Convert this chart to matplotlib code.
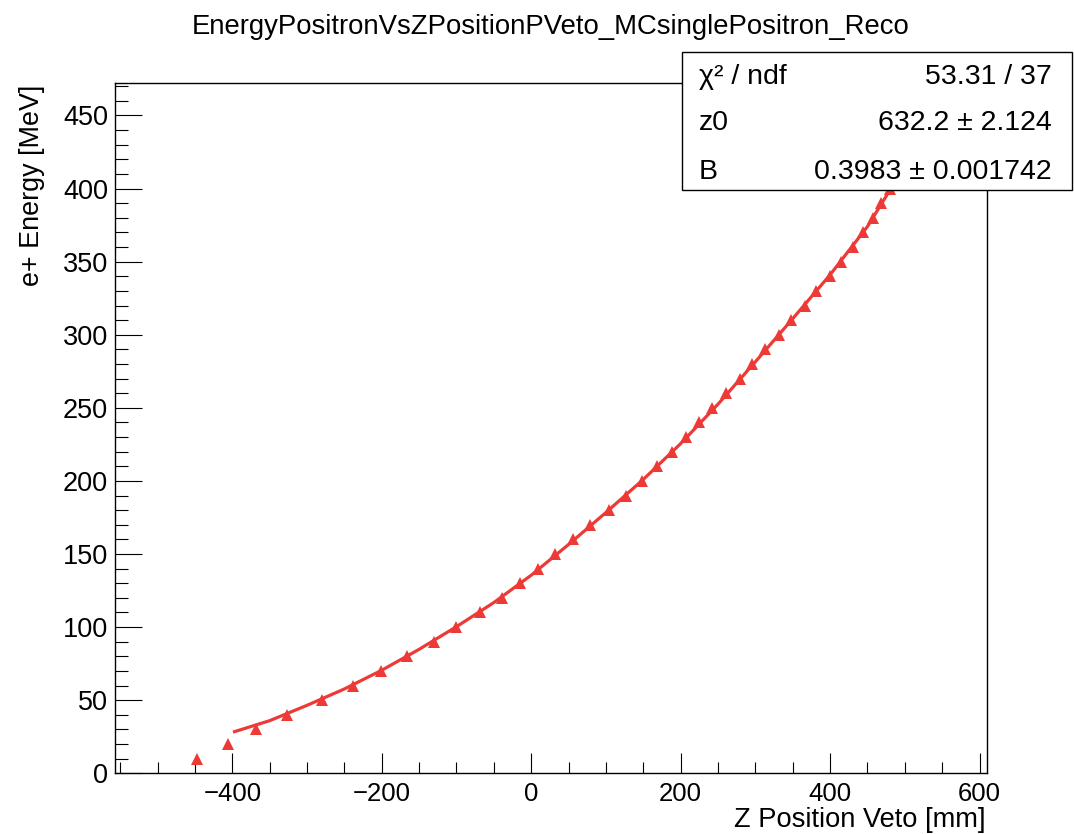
import matplotlib
matplotlib.use("Agg")
import matplotlib.pyplot as plt
from matplotlib.patches import Rectangle
from matplotlib.ticker import MultipleLocator, FuncFormatter

plt.rcParams['font.family'] = ['Liberation Sans', 'DejaVu Sans']

# ---- data ----
energy = [10, 20, 30, 40, 50, 60, 70, 80, 90, 100, 110, 120, 130, 140, 150,
          160, 170, 180, 190, 200, 210, 220, 230, 240, 250, 260, 270, 280,
          290, 300, 310, 320, 330, 340, 350, 360, 370, 380, 390, 400, 410]
zpos = [-447.6, -406.0, -368.7, -326.5, -280.5, -238.2, -201.0, -166.8,
        -130.0, -100.0, -68.7, -39.7, -15.2, 9.2, 31.6, 56.0, 78.4, 104.2,
        126.5, 148.9, 168.4, 189.0, 207.7, 224.5, 242.5, 261.2, 279.0,
        295.4, 312.4, 331.0, 348.0, 365.9, 381.6, 399.4, 415.0, 430.5,
        443.9, 457.3, 468.5, 479.6, 491.0]

# fit curve
fit_z = [-397, -350, -300, -250, -200, -150, -100, -50, 0, 50, 100, 150,
         200, 250, 300, 350, 400, 450, 491]
fit_E = [28.5, 36.0, 46.5, 57.7, 70.5, 84.8, 100.3, 116.8, 135.5, 156.5,
         178.4, 201.0, 225.5, 252.5, 281.5, 311.0, 341.0, 374.0, 408.0]

title = "EnergyPositronVsZPositionPVeto_MCsinglePositron_Reco"
xlabel = "Z Position Veto [mm]"
ylabel = "e+ Energy [MeV]"
stat_names = ["\u03c7\u00b2 / ndf", "z0", "B"]
stat_values = ["53.31 / 37", "632.2 \u00b1 2.124", "0.3983 \u00b1 0.001742"]

RED = '#ee3a36'
W, H = 1074, 834
fig = plt.figure(figsize=(W / 100, H / 100), dpi=100)
fig.patch.set_facecolor('white')

L, R, T, B = 115, 987, 83.3, 773.3
ax = fig.add_axes([L / W, 1 - B / H, (R - L) / W, (B - T) / H])
ax.set_xlim(-557, 610)
ax.set_ylim(0, 472)

ax.plot(fit_z, fit_E, color=RED, lw=2.3, zorder=3, solid_joinstyle='round')
ax.plot(zpos, energy, linestyle='none', marker='^', ms=8.8, color=RED,
        markeredgewidth=0, zorder=4)

for s in ax.spines.values():
    s.set_linewidth(1.0)
    s.set_color('black')

ax.xaxis.set_major_locator(MultipleLocator(200))
ax.xaxis.set_minor_locator(MultipleLocator(50))
ax.yaxis.set_major_locator(MultipleLocator(50))
ax.yaxis.set_minor_locator(MultipleLocator(10))
ax.tick_params(axis='x', which='major', direction='in', length=14.4, width=0.8,
               labelsize=18.5, pad=6, top=False)
ax.tick_params(axis='x', which='minor', direction='in', length=7.9, width=0.8,
               top=False)
ax.tick_params(axis='y', which='major', direction='in', length=19.4, width=0.8,
               labelsize=19.5, pad=5, right=False)
ax.tick_params(axis='y', which='minor', direction='in', length=9.4, width=0.8,
               right=False)
ax.xaxis.set_major_formatter(FuncFormatter(
    lambda v, p: ('\u2212%d' % abs(v)) if v < 0 else '%d' % v))

fig.text(551 / W, 1 - 27 / H, title, ha='center', va='center', fontsize=19.8)
fig.text(986 / W, 1 - 820 / H, xlabel, ha='right', va='center', fontsize=19.6)
fig.text(32 / W, 1 - 85 / H, ylabel, ha='center', va='top', rotation=90,
         fontsize=19.4)

# stats box
bx0, bx1, by0, by1 = 682, 1072, 52.3, 190
fig.add_artist(Rectangle((bx0 / W, 1 - by1 / H), (bx1 - bx0) / W,
                         (by1 - by0) / H, transform=fig.transFigure,
                         facecolor='white', edgecolor='black', lw=1.0,
                         zorder=10))
rows_y = [76.7, 123, 171.7]
for name, val, yy in zip(stat_names, stat_values, rows_y):
    fig.text(699 / W, 1 - yy / H, name, ha='left', va='center', fontsize=20.5,
             zorder=11)
    fig.text(1052 / W, 1 - yy / H, val, ha='right', va='center', fontsize=20.5,
             zorder=11)

fig.savefig('out.png', dpi=100, facecolor='white')
